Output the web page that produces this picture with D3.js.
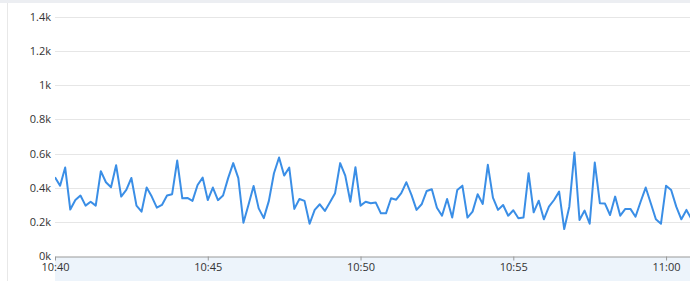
<!DOCTYPE html>
<html>
<head>
  <meta charset="utf-8">
  <title>Requests per 10s</title>
  <style>
  body {
    margin: 0;
    background: #fff;
  }
  .axis text {
    font-family: "Open Sans", sans-serif;
    font-size: 11px;
    fill: #333;
  }
  </style>
</head>
<body>
  <div id="chart"></div>
  <script src="https://cdn.jsdelivr.net/npm/d3@7"></script>
  <script>
  // data: one sample every 10 seconds from 10:40
  var startTime = "2024-01-01 10:40:00";
  var stepSeconds = 10;
  var values = [
    461, 412, 518, 272, 328, 354, 295, 318, 295, 497,
    432, 403, 532, 348, 387, 457, 295, 260, 401, 348,
    283, 299, 354, 362, 559, 338, 340, 323, 416, 459,
    328, 401, 327, 354, 456, 544, 456, 195, 300, 410,
    279, 222, 323, 485, 577, 471, 518, 276, 334, 323,
    189, 270, 303, 264, 315, 368, 544, 471, 318, 520,
    295, 318, 309, 313, 250, 250, 338, 330, 368, 432,
    358, 270, 303, 381, 391, 283, 236, 334, 225, 387,
    412, 225, 260, 362, 305, 534, 342, 270, 299, 236,
    268, 221, 225, 485, 256, 324, 215, 289, 328, 377,
    158, 289, 606, 211, 266, 189, 547, 309, 307, 240,
    348, 236, 276, 276, 230, 318, 401, 309, 215, 189,
    412, 387, 289, 215, 270, 215
  ];
  var yTicks = [0, 200, 400, 600, 800, 1000, 1200, 1400];
  var endTime = "2024-01-01 11:00:47";

  var width = 690;
  var height = 281;
  var plotLeft = 55, plotBottom = 256, plotTop = 17;

  var parse = d3.timeParse("%Y-%m-%d %H:%M:%S");
  var t0 = parse(startTime);
  var data = values.map(function(v, i) {
    return {time: d3.timeSecond.offset(t0, i * stepSeconds), value: v};
  });

  var svg = d3.select("#chart")
    .append("svg")
    .attr("width", width)
    .attr("height", height);

  // card edges
  svg.append("rect")
    .attr("x", 0).attr("y", 0)
    .attr("width", width).attr("height", 3)
    .attr("fill", "#eceef2");
  svg.append("line")
    .attr("x1", 7.5).attr("x2", 7.5)
    .attr("y1", 3).attr("y2", height)
    .attr("stroke", "#e8e8e8");

  var x = d3.scaleTime()
    .domain([t0, parse(endTime)])
    .range([plotLeft, width]);

  var y = d3.scaleLinear()
    .domain([0, 1400])
    .range([plotBottom, plotTop]);

  // light band under the x axis
  svg.append("rect")
    .attr("x", plotLeft).attr("y", plotBottom + 1)
    .attr("width", width - plotLeft).attr("height", height - plotBottom - 1)
    .attr("fill", "#edf4fb");

  // grid
  svg.append("g")
    .selectAll("line")
    .data(yTicks.slice(1))
    .enter().append("line")
    .attr("x1", plotLeft).attr("x2", width)
    .attr("y1", function(d) { return Math.round(y(d)) + 0.5; })
    .attr("y2", function(d) { return Math.round(y(d)) + 0.5; })
    .attr("stroke", "#e6e6e6");

  // y axis labels
  var yAxis = svg.append("g")
    .attr("class", "axis")
    .attr("transform", "translate(" + (plotLeft - 2) + ",0)")
    .call(d3.axisLeft(y).tickValues(yTicks).tickSize(0).tickPadding(2)
      .tickFormat(function(d) { return d / 1000 + "k"; }));
  yAxis.select(".domain").remove();

  // x axis
  var xAxis = svg.append("g")
    .attr("class", "axis")
    .attr("transform", "translate(0," + (plotBottom + 0.5) + ")")
    .call(d3.axisBottom(x).ticks(d3.timeMinute.every(5)).tickSize(4).tickSizeOuter(0)
      .tickFormat(d3.timeFormat("%H:%M")));
  xAxis.select(".domain").attr("stroke", "#999");
  xAxis.selectAll(".tick line").attr("stroke", "#999");
  xAxis.selectAll(".tick text").attr("dy", "0.9em").attr("y", 5);

  // line
  svg.append("clipPath")
    .attr("id", "clip")
    .append("rect")
    .attr("x", plotLeft).attr("y", 0)
    .attr("width", width - plotLeft).attr("height", plotBottom);

  svg.append("path")
    .datum(data)
    .attr("clip-path", "url(#clip)")
    .attr("fill", "none")
    .attr("stroke", "#3a8ee6")
    .attr("stroke-width", 2)
    .attr("stroke-linejoin", "round")
    .attr("d", d3.line()
      .x(function(d) { return x(d.time); })
      .y(function(d) { return y(d.value); }));
  </script>
</body>
</html>
